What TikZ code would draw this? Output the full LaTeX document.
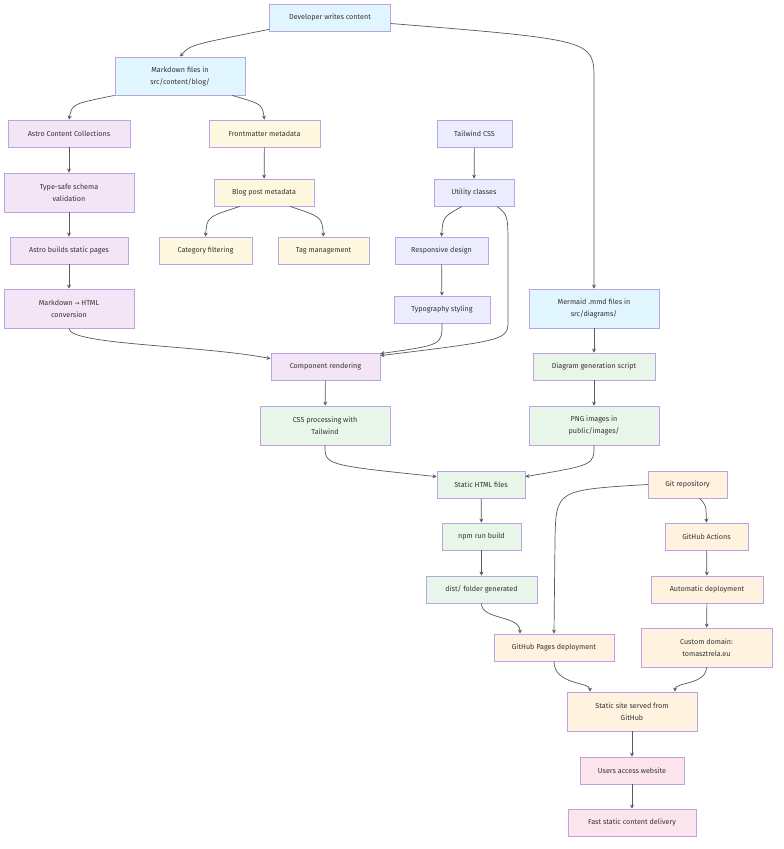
\documentclass[tikz,border=0pt]{standalone}
\usepackage{fontspec}
\setmainfont{Fira Sans}
\usetikzlibrary{arrows.meta,calc}
\definecolor{bd}{HTML}{B9A5E6}
\definecolor{cb}{HTML}{E1F5FE}
\definecolor{cp}{HTML}{F3E5F5}
\definecolor{cy}{HTML}{FFF8E1}
\definecolor{cl}{HTML}{ECECFF}
\definecolor{cg}{HTML}{E8F5E9}
\definecolor{co}{HTML}{FFF3E0}
\definecolor{ck}{HTML}{FCE4EC}
\definecolor{tx}{HTML}{333333}
\tikzset{
 bx/.style={draw=bd,line width=0.8pt,inner sep=0pt,align=center,font=\fontsize{7.2}{12}\selectfont,text=tx},
 b1/.style={bx,minimum height=27pt},
 b2/.style={bx,minimum height=39pt},
 ed/.style={draw=black!65,line width=0.7pt,-{Stealth[length=4pt,width=4pt]}},
}
\begin{document}
\begin{tikzpicture}[x=1pt,y=-1pt]
\useasboundingbox[fill=white] (0,0) rectangle (784,849);
\node[b1,fill=cb,minimum width=121pt] (dev) at (330,17.5) {Developer writes content};
\node[b2,fill=cb,minimum width=130pt,minimum height=38pt] (md) at (180,76) {Markdown files in\\src/content/blog/};
\node[b1,fill=cp,minimum width=122pt] (acc) at (69,133.5) {Astro Content Collections};
\node[b1,fill=cy,minimum width=111pt] (fm) at (264.5,133.5) {Frontmatter metadata};
\node[b1,fill=cl,minimum width=75pt] (tw) at (474.5,133.5) {Tailwind CSS};
\node[b2,fill=cp,minimum width=130pt] (ts) at (69,192.5) {Type-safe schema\\validation};
\node[b1,fill=cy,minimum width=100pt] (bpm) at (264,192.5) {Blog post metadata};
\node[b1,fill=cl,minimum width=80pt] (uc) at (474,192.5) {Utility classes};
\node[b1,fill=cp,minimum width=118pt] (abs) at (69,250.5) {Astro builds static pages};
\node[b1,fill=cy,minimum width=93pt] (cf) at (205.5,250.5) {Category filtering};
\node[b1,fill=cy,minimum width=91pt] (tm) at (323.5,250.5) {Tag management};
\node[b1,fill=cl,minimum width=93pt] (rd) at (441.5,250.5) {Responsive design};
\node[b2,fill=cp,minimum width=130pt] (mh) at (69,308.5) {Markdown {\fontspec{DejaVu Sans}\fontsize{6}{12}\selectfont →} HTML\\conversion};
\node[b1,fill=cl,minimum width=96pt] (typ) at (442,309.5) {Typography styling};
\node[b2,fill=cb,minimum width=130pt] (mer) at (594,308.5) {Mermaid .mmd files in\\src/diagrams/};
\node[b1,fill=cp,minimum width=109pt] (cr) at (325.5,366.5) {Component rendering};
\node[b1,fill=cg,minimum width=122pt] (dgs) at (594,366.5) {Diagram generation script};
\node[b2,fill=cg,minimum width=130pt] (css) at (325,425.5) {CSS processing with\\Tailwind};
\node[b2,fill=cg,minimum width=130pt] (png) at (594,425.5) {PNG images in\\public/images/};
\node[b1,fill=cg,minimum width=88pt] (shf) at (481,484.5) {Static HTML files};
\node[b1,fill=co,minimum width=79pt] (git) at (687.5,484.5) {Git repository};
\node[b1,fill=cg,minimum width=79pt] (npm) at (481.5,536.5) {npm run build};
\node[b1,fill=co,minimum width=83pt] (gha) at (706.5,536.5) {GitHub Actions};
\node[b1,fill=cg,minimum width=111pt] (dist) at (481.5,589.5) {dist/ folder generated};
\node[b1,fill=co,minimum width=112pt] (ad) at (707,589.5) {Automatic deployment};
\node[b1,fill=co,minimum width=120pt] (ghp) at (554,647.5) {GitHub Pages deployment};
\node[b2,fill=co,minimum width=131pt] (cd) at (706.5,647.5) {Custom domain:\\tomasztrela.eu};
\node[b2,fill=co,minimum width=130pt] (ss) at (632,711.5) {Static site served from\\GitHub};
\node[b1,fill=ck,minimum width=104pt] (ua) at (632,770.5) {Users access website};
\node[b1,fill=ck,minimum width=128pt] (fs) at (632,822.5) {Fast static content delivery};
% edges
\draw[ed] ($(dev.south west)+(0,-2)$) .. controls (190,45) .. (md.north);
\coordinate (k1) at (594,80);
\draw[ed] ($(dev.east)+(0,6)$) .. controls (594,40) .. (k1) -- (mer.north);
\draw[ed] ($(md.south west)+(0,0)$) .. controls (72,104) .. (acc.north);
\draw[ed] ($(md.south)+(52,0)$) .. controls (262,104) .. (fm.north);
\draw[ed] (acc) -- (ts);
\draw[ed] (ts) -- (abs);
\draw[ed] (abs) -- (mh);
\draw[ed] (fm) -- (bpm);
\draw[ed] (tw) -- (uc);
\draw[ed] ($(bpm.south)+(-24,0)$) .. controls (207,217) .. (cf.north);
\draw[ed] ($(bpm.south)+(26,0)$) .. controls (322,217) .. (tm.north);
\draw[ed] ($(uc.south)+(-12,0)$) .. controls (443,217) .. (rd.north);
\coordinate (k2) at (508,250);
\draw[ed] ($(uc.south)+(23,0)$) .. controls (508,215) .. (k2) -- (508,320) .. controls (508,340) .. ($(cr.north east)+(0,3)$);
\draw[ed] (rd) -- (typ);
\draw[ed] (mh.south) .. controls (69,345) and (200,345) .. ($(cr.north west)+(0,6)$);
\draw[ed] (typ.south) .. controls (442,345) .. ($(cr.north east)+(0,1)$);
\draw[ed] (cr) -- (css);
\draw[ed] (mer) -- (dgs);
\draw[ed] (dgs) -- (png);
\draw[ed] (css.south) .. controls (325,465) .. ($(shf.north west)+(0,6)$);
\draw[ed] (png.south) .. controls (594,465) .. ($(shf.north east)+(0,6)$);
\draw[ed] (shf) -- (npm);
\draw[ed] (npm) -- (dist);
\draw[ed] (dist.south) .. controls (481,620) and (520,615) .. ($(ghp.north)+(-34,0)$);
\draw[ed] (git.west) .. controls (556,490) .. (555,540) -- (ghp.north);
\draw[ed] ($(git.south)+(12,0)$) .. controls (706,505) .. (gha.north);
\draw[ed] (gha) -- (ad);
\draw[ed] (ad) -- (cd);
\draw[ed] (ghp.south) .. controls (554,685) and (590,682) .. ($(ss.north)+(-42,0)$);
\draw[ed] (cd.south) .. controls (706,685) and (675,682) .. ($(ss.north)+(43,0)$);
\draw[ed] (ss) -- (ua);
\draw[ed] (ua) -- (fs);
\end{tikzpicture}
\end{document}
